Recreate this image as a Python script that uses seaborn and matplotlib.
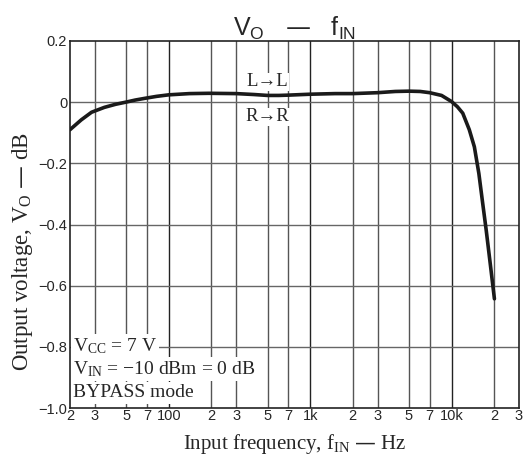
import numpy as np
import pandas as pd
import matplotlib
matplotlib.use('Agg')
import matplotlib.pyplot as plt
import matplotlib.ticker as mticker
import seaborn as sns

# Frequency response
freq_hz = [20, 24, 28.4, 35, 42, 49.6, 58, 68.6, 82, 100, 140, 192, 300, 400,
           500, 600, 700, 1000, 1500, 2000, 3000, 4000, 5000, 6000, 7000, 8500,
           10000, 11000, 12000, 13350, 14500, 15600, 16600, 17600, 18800, 20100]
vout_db = [-0.09, -0.058, -0.033, -0.017, -0.007, 0.0, 0.007, 0.013, 0.019, 0.024,
           0.028, 0.029, 0.028, 0.025, 0.022, 0.022, 0.023, 0.026, 0.028, 0.028,
           0.031, 0.035, 0.036, 0.035, 0.031, 0.022, 0.002, -0.015, -0.036, -0.09,
           -0.146, -0.233, -0.33, -0.42, -0.53, -0.643]

x_ticks = [20, 30, 50, 70, 100, 200, 300, 500, 700, 1000, 2000, 3000, 5000, 7000,
           10000, 20000, 30000]
x_tick_labels = ['2', '3', '5', '7', '100', '2', '3', '5', '7', '1k', '2', '3', '5', '7',
                 '10k', '2', '3']
y_ticks = [0.2, 0, -0.2, -0.4, -0.6, -0.8, -1.0]
y_tick_labels = ['0.2', '0', '\u22120.2', '\u22120.4', '\u22120.6', '\u22120.8', '\u22121.0']
cond_lines = ['V$_{CC}$ = 7 V', 'V$_{IN}$ = \u221210 dBm = 0 dB', 'BYPASS mode']

df = pd.DataFrame({'freq': freq_hz, 'vout': vout_db})

sns.set_style('white')
plt.rcParams['font.family'] = ['Liberation Sans', 'DejaVu Sans']
plt.rcParams['mathtext.default'] = 'regular'
serif = ['Liberation Serif', 'DejaVu Serif']

fig = plt.figure(figsize=(5.23, 4.58), dpi=100)
ax = fig.add_axes([70 / 523, 1 - 408 / 458, 449 / 523, 367 / 458])

ax.set_xscale('log')
ax.set_xlim(20, 30000)
ax.set_ylim(-1.0, 0.2)

# grid lines
for f in x_ticks[1:-1]:
    dark = f in (100, 1000, 10000)
    ax.axvline(f, color='#222222' if dark else '#555555', lw=1.0, zorder=1)
for v in y_ticks[1:-1]:
    ax.axhline(v, color='#666666', lw=1.0, zorder=1)

sns.lineplot(data=df, x='freq', y='vout', color='#1a1a1a', lw=2.6, ax=ax, zorder=5)

ax.xaxis.set_major_locator(mticker.FixedLocator(x_ticks))
ax.xaxis.set_minor_locator(mticker.NullLocator())
ax.set_xticklabels(x_tick_labels)
ax.set_yticks(y_ticks)
ax.set_yticklabels(y_tick_labels)
ax.tick_params(axis='both', length=0, labelsize=10.5, pad=2)
ax.tick_params(axis='x', pad=1)

for s in ax.spines.values():
    s.set_color('#222222')
    s.set_linewidth(1.2)

ax.set_xlabel('Input frequency, f$_{IN}$ \u2014 Hz', family=serif, fontsize=15, labelpad=6)
ax.set_ylabel('Output voltage, V$_O$ \u2014 dB', family=serif, fontsize=16.5)
ax.yaxis.set_label_coords(-0.078, 0.425)
ax.set_title('V$_O$   \u2014   f$_{IN}$', fontsize=18, pad=4)

ax.text(500, 0.066, 'L\u2192L', family=serif, fontsize=13.5, ha='center', va='center',
        zorder=4, bbox=dict(facecolor='white', edgecolor='none', pad=0.3))
ax.text(500, -0.048, 'R\u2192R', family=serif, fontsize=13.5, ha='center', va='center',
        zorder=4, bbox=dict(facecolor='white', edgecolor='none', pad=0.3))

# operating conditions, each line on its own white patch
for line, yy in zip(cond_lines, [0.168, 0.105, 0.041]):
    ax.text(0.006, yy, line, transform=ax.transAxes, family=serif, fontsize=14,
            ha='left', va='center', zorder=4,
            bbox=dict(facecolor='white', edgecolor='none', pad=1.5))

fig.savefig('out.png', dpi=100)
